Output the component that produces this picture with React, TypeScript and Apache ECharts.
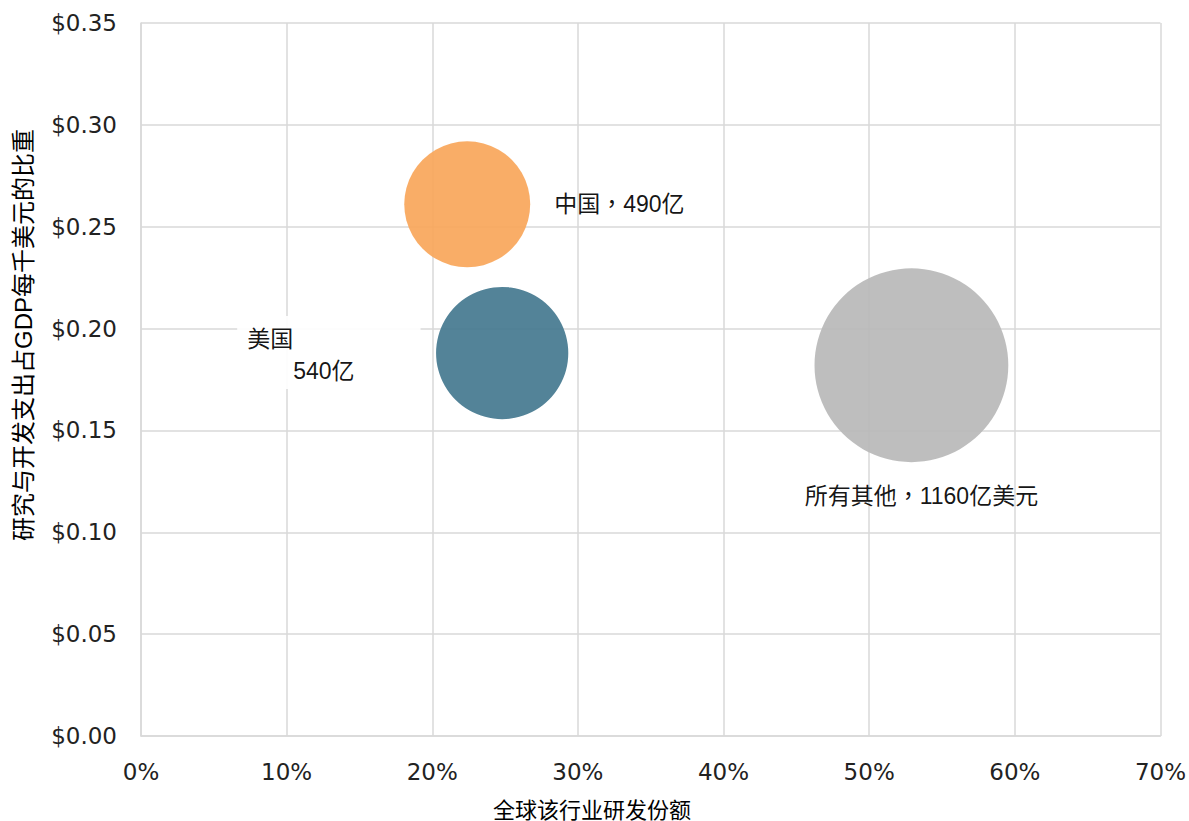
import React, { useEffect, useRef } from "react";
import * as echarts from "echarts";

// Share of global R&D in the industry (fraction) and R&D per $1,000 of GDP
const regions = ["中国", "美国", "所有其他"];
const globalShare = [0.224, 0.248, 0.529];
const rdPerGdp = [0.261, 0.188, 0.182];
const rdSpend = [490, 540, 1160]; // 亿美元
const labelSuffix = ["亿", "亿", "亿美元"];
const colors = ["#F9A65A", "#44788F", "#B8B8B8"];

const xTicks = [0, 0.1, 0.2, 0.3, 0.4, 0.5, 0.6, 0.7];
const yTicks = [0, 0.05, 0.1, 0.15, 0.2, 0.25, 0.3, 0.35];

const xTitle = "全球该行业研发份额";
const yTitle = "研究与开发支出占GDP每千美元的比重";

const W = 1189;
const H = 821;
const tickFont = "'DejaVu Sans', sans-serif";
const labelFont = "'Liberation Sans', 'Noto Sans CJK TC', sans-serif";
const cjkFont = "'Liberation Sans', 'Noto Sans CJK SC', sans-serif";

// bubble area proportional to spend
const bubbleDiameter = (v: number) => 5.69 * Math.sqrt(v);

export default function App() {
  const ref = useRef<HTMLDivElement>(null);

  useEffect(() => {
    document.body.style.margin = "0";
    if (!ref.current) return;
    const chart = echarts.init(ref.current, null, { renderer: "svg" });

    const labelConfigs: any[] = [
      {
        show: true,
        position: "right",
        distance: 24,
        formatter: `${regions[0]}，${rdSpend[0]}${labelSuffix[0]}`,
      },
      {
        show: true,
        position: "inside",
        align: "left",
        verticalAlign: "top",
        offset: [-265, -37],
        backgroundColor: "#ffffff",
        padding: [7, 66, 2, 10],
        formatter: `{a|${regions[1]}}\n{b|${rdSpend[1]}${labelSuffix[1]}}`,
        rich: {
          a: { fontSize: 23, lineHeight: 32, fontFamily: labelFont, color: "#000" },
          b: {
            fontSize: 23,
            lineHeight: 32,
            fontFamily: labelFont,
            color: "#000",
            padding: [0, 0, 0, 46],
          },
        },
      },
      {
        show: true,
        position: "bottom",
        distance: 22,
        offset: [10, 0],
        formatter: `${regions[2]}，${rdSpend[2]}${labelSuffix[2]}`,
      },
    ];

    const data = regions.map((name, i) => ({
      name,
      value: [globalShare[i], rdPerGdp[i], rdSpend[i]],
      symbolSize: bubbleDiameter(rdSpend[i]),
      itemStyle: { color: colors[i], opacity: 0.92 },
      label: labelConfigs[i],
    }));

    const gridLine = { lineStyle: { color: "#d9d9d9", width: 1.5 } };

    chart.setOption({
      animation: false,
      backgroundColor: "#ffffff",
      grid: { left: 141, right: 28, top: 23, bottom: 85, containLabel: false },
      xAxis: {
        type: "value",
        min: xTicks[0],
        max: xTicks[xTicks.length - 1],
        interval: 0.1,
        axisLine: { show: true, ...gridLine },
        axisTick: { show: false },
        splitLine: { show: true, ...gridLine },
        axisLabel: {
          margin: 24,
          fontSize: 23,
          fontFamily: tickFont,
          color: "#222",
          formatter: (v: number) => `${Math.round(v * 100)}%`,
        },
      },
      yAxis: {
        type: "value",
        min: yTicks[0],
        max: yTicks[yTicks.length - 1],
        interval: 0.05,
        axisLine: { show: true, ...gridLine },
        axisTick: { show: false },
        splitLine: { show: true, ...gridLine },
        axisLabel: {
          margin: 24,
          fontSize: 23,
          fontFamily: tickFont,
          color: "#222",
          formatter: (v: number) => `$${v.toFixed(2)}`,
        },
      },
      graphic: [
        {
          type: "text",
          x: 592,
          y: 810,
          style: {
            text: xTitle,
            font: `22px ${cjkFont}`,
            fill: "#000",
            align: "center",
            verticalAlign: "middle",
          },
        },
        {
          type: "text",
          x: 23,
          y: 335,
          rotation: Math.PI / 2,
          style: {
            text: yTitle,
            font: `24px ${cjkFont}`,
            fill: "#000",
            align: "center",
            verticalAlign: "middle",
          },
        },
      ],
      series: [
        {
          type: "scatter",
          data,
          label: {
            fontSize: 23,
            fontFamily: labelFont,
            color: "#000",
          },
          emphasis: { disabled: true },
          z: 3,
        },
      ],
    });

    return () => chart.dispose();
  }, []);

  return <div ref={ref} style={{ width: W, height: H }} />;
}
